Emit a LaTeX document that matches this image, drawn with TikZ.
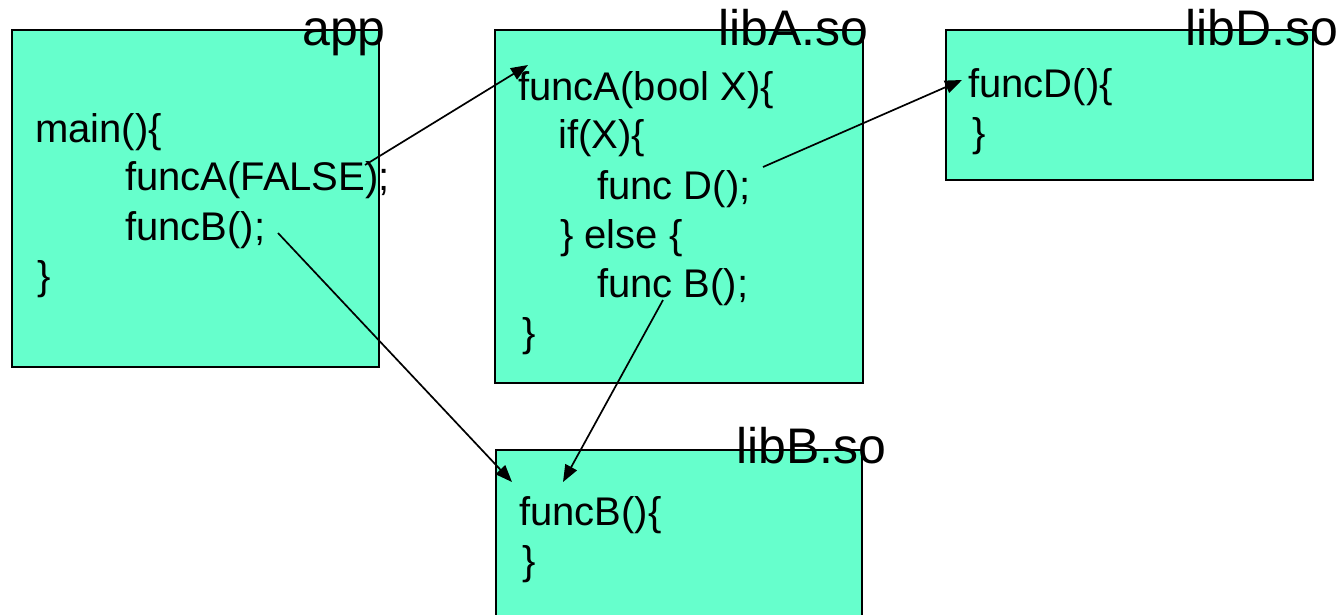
\documentclass[tikz,border=0pt]{standalone}
\usepackage{fontspec}
\setmainfont{Liberation Sans}
\usetikzlibrary{arrows.meta}
\definecolor{boxfill}{RGB}{102,255,204}
\begin{document}
\begin{tikzpicture}[x=1pt,y=-1pt,
  box/.style={draw=black,line width=1.6pt,fill=boxfill,anchor=north west,inner sep=0pt,outer sep=0pt},
  code/.style={anchor=base west,inner sep=0pt,font=\fontsize{40}{48}\selectfont},
  title/.style={anchor=base west,inner sep=0pt,font=\fontsize{50}{60}\selectfont},
  call/.style={line width=1.7pt,-{Triangle[length=17pt,width=13pt]}}]
\clip (0,0) rectangle (1343,614);
% boxes
\node[box,minimum width=367pt,minimum height=337pt] (app) at (12,30) {};
\node[box,minimum width=368pt,minimum height=353pt] (libA) at (495,30) {};
\node[box,minimum width=367pt,minimum height=150pt] (libD) at (946,30) {};
\node[box,minimum width=366pt,minimum height=200pt] (libB) at (496,450) {};
% titles
\node[title] (tapp) at (302,45) {app};
\node[title] (tlibA) at (718,45) {libA.so};
\node[title] (tlibD) at (1185,45) {libD.so};
\node[title] (tlibB) at (736,463) {libB.so};
% app code
\node[code] (a1) at (35,142) {main()\{};
\node[code] (a2) at (125,190) {funcA(FALSE);};
\node[code] (a3) at (125,240) {funcB();};
\node[code] (a4) at (37,289) {\}};
% libA code
\node[code] (l1) at (518,100) {funcA(bool X)\{};
\node[code] (l2) at (558,148) {if(X)\{};
\node[code] (l3) at (597,199) {func D();};
\node[code] (l4) at (560,248) {\} else \{};
\node[code] (l5) at (597,297) {func B();};
\node[code] (l6) at (522,346) {\}};
% libD code
\node[code] (d1) at (968,97) {funcD()\{};
\node[code] (d2) at (972,146) {\}};
% libB code
\node[code] (b1) at (519,525) {funcB()\{};
\node[code] (b2) at (522,574) {\}};
% connector end points
\coordinate (s1) at (365,165);
\coordinate (e1) at (528,65);
\coordinate (s2) at (278,233);
\coordinate (e2) at (512,482);
\coordinate (s3) at (763,167);
\coordinate (e3) at (962,80);
\coordinate (s4) at (663,300);
\coordinate (e4) at (563,482);
\draw[call] (s1) -- (e1);
\draw[call] (s2) -- (e2);
\draw[call] (s3) -- (e3);
\draw[call] (s4) -- (e4);
\end{tikzpicture}
\end{document}
